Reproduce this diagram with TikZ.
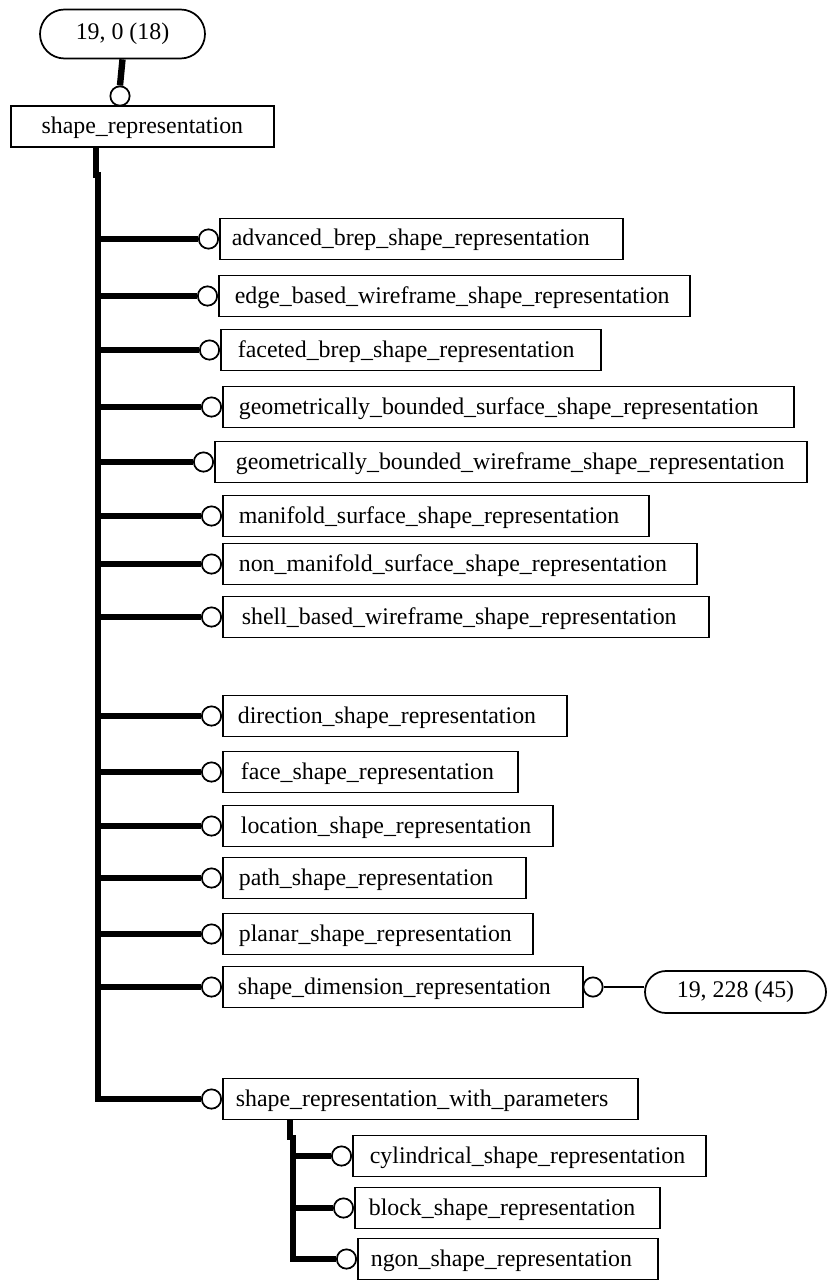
\documentclass[tikz,border=0pt]{standalone}
\usepackage{fontspec}
\setmainfont{Liberation Serif}
\usetikzlibrary{shapes.misc}
\tikzset{
  ebox/.style={draw, line width=1.3pt, rectangle, minimum height=30.75pt, inner ysep=0pt,
    text height=14.5pt, text depth=4pt,
    font=\fontsize{17.9}{20}\selectfont, align=left, anchor=west},
  conn/.style={draw, line width=1.3pt, circle, fill=white, minimum size=14.5pt, inner sep=0pt},
  bar/.style={line width=4.8pt},
  thinline/.style={line width=1.3pt},
  bubble/.style={draw, line width=1.3pt, rounded rectangle, inner sep=0pt,
    font=\fontsize{17.9}{20}\selectfont}
}
% name, left, right, y, text inset, text, trunk coordinate
\newcommand\ebx[7]{%
  \pgfmathsetmacro\ebw{(#3-#2-2*#5)*0.75}%
  \pgfmathsetmacro\ebi{#5*0.75}%
  \node[ebox, inner xsep=\ebi pt, text width=\ebw pt] (#1) at (#2,#4) {#6};%
  \node[conn] (#1c) at ({#2-10.5},#4) {};%
  \draw[bar] (#1c.west -| #7) -- (#1c.west);%
}
\begin{document}
\begin{tikzpicture}[x=0.75pt,y=-0.75pt]
\useasboundingbox (0,0) rectangle (827,1280);

% top bubble and root
\node[bubble, minimum width=123.75pt, minimum height=36.75pt] (top) at (122.5,34) {19, 0 (18)};
\node[ebox, inner xsep=19.5pt, minimum width=197.25pt] (sr) at (10,126.5) {shape\_representation};
\node[conn] (topc) at (120,96) {};
\draw[bar] (top.south) -- (topc.north);

% main trunk
\coordinate (jog) at (96,178);
\coordinate (trk) at (98,172);
\draw[bar] (sr.south -| jog) -- (jog);

\ebx{b1}{219}{622}{239}{12}{advanced\_brep\_shape\_representation}{trk}
\ebx{b2}{218}{689}{296}{16}{edge\_based\_wireframe\_shape\_representation}{trk}
\ebx{b3}{220}{600}{350}{17}{faceted\_brep\_shape\_representation}{trk}
\ebx{b4}{222}{793}{407}{16}{geometrically\_bounded\_surface\_shape\_representation}{trk}
\ebx{b5}{214}{806}{462}{21}{geometrically\_bounded\_wireframe\_shape\_representation}{trk}
\ebx{b6}{222}{648}{516}{16}{manifold\_surface\_shape\_representation}{trk}
\ebx{b7}{222}{696}{564}{16}{non\_manifold\_surface\_shape\_representation}{trk}
\ebx{b8}{222}{708}{617}{19}{shell\_based\_wireframe\_shape\_representation}{trk}
\ebx{b9}{222}{566}{716}{15}{direction\_shape\_representation}{trk}
\ebx{b10}{222}{517}{772}{18}{face\_shape\_representation}{trk}
\ebx{b11}{222}{552}{826}{18}{location\_shape\_representation}{trk}
\ebx{b12}{222}{525}{878}{16}{path\_shape\_representation}{trk}
\ebx{b13}{222}{532}{934}{16}{planar\_shape\_representation}{trk}
\ebx{b14}{222}{582}{987}{15}{shape\_dimension\_representation}{trk}

% last branch with corner
\pgfmathsetmacro\ebw{(637-222-26)*0.75}
\node[ebox, inner xsep=9.75pt, text width=\ebw pt] (b15) at (222,1099) {shape\_representation\_with\_parameters};
\node[conn] (b15c) at (211.5,1099) {};
\draw[bar, line join=miter] (trk) -- (trk |- b15c.west) -- (b15c.west);

% reference bubble on the right
\node[conn] (sdr) at (593,987) {};
\node[bubble, minimum width=135.75pt, minimum height=31.5pt] (ref) at (735.5,992) {19, 228 (45)};
\draw[thinline] (sdr.east) -- (sdr.east -| ref.west);

% subtree
\coordinate (jog2) at (290,1140);
\coordinate (trk2) at (293,1135);
\draw[bar] (b15.south -| jog2) -- (jog2);
\ebx{s1}{352}{705}{1156}{17}{cylindrical\_shape\_representation}{trk2}
\ebx{s2}{354}{659}{1208}{14}{block\_shape\_representation}{trk2}
\pgfmathsetmacro\ebw{(657-357-26)*0.75}
\node[ebox, inner xsep=9.75pt, text width=\ebw pt] (s3) at (357,1259) {ngon\_shape\_representation};
\node[conn] (s3c) at (346.5,1259) {};
\draw[bar, line join=miter] (trk2) -- (trk2 |- s3c.west) -- (s3c.west);
\end{tikzpicture}
\end{document}
